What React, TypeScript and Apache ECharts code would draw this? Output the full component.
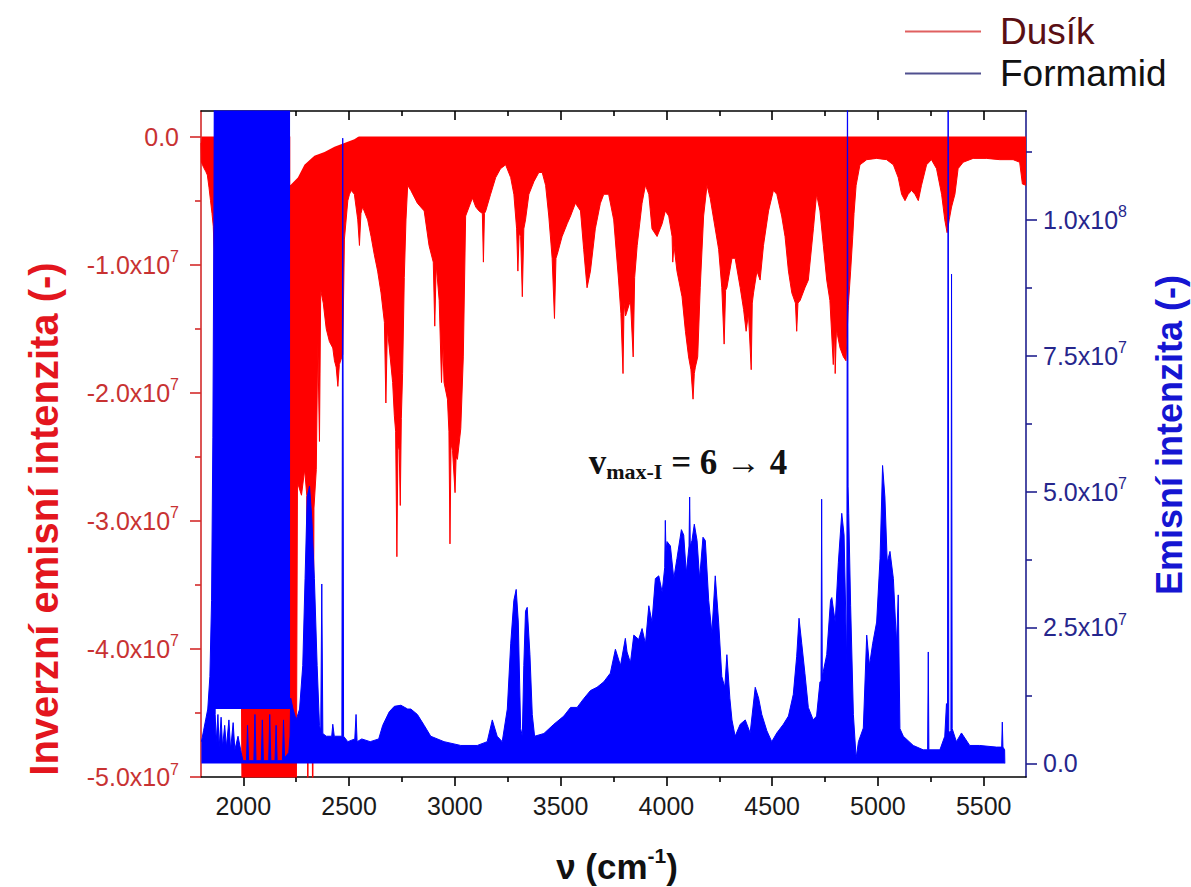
import React, { useEffect, useRef } from "react";
import * as echarts from "echarts";

// ---------- data (intensities in units of 1e7) ----------
const UNIT = 1e7;

const xTicks = [2000, 2500, 3000, 3500, 4000, 4500, 5000, 5500];
const xMinorTicks = [2250, 2750, 3250, 3750, 4250, 4750, 5250];
const leftTicks = [-5e7, -4e7, -3e7, -2e7, -1e7, 0];
const leftMinorTicks = [-4.5e7, -3.5e7, -2.5e7, -1.5e7, -0.5e7];
const rightTicks = [0, 2.5e7, 5e7, 7.5e7, 1e8];
const rightMinorTicks = [1.25e7, 3.75e7, 6.25e7, 8.75e7, 1.125e8];

// Dusík (nitrogen) – inverted emission, lower envelope of the dense line spectrum
const dusik: [number, number][] = [
  [1800, -0.05], [1802, -0.2], [1812, -0.24], [1822, -0.27], [1830, -0.3], [1838, -0.4],
  [1845, -0.5], [1852, -0.6], [1858, -0.7], [1862, -0.9], [1866, -4.0], [1990, -4.0], [1995, -5.5],
  [2250, -5.5], [2256, -2.7], [2275, -2.8], [2290, -2.6], [2300, -2.8], [2305, -5.5],
  [2310, -2.8], [2322, -2.9], [2328, -5.5], [2334, -2.9], [2345, -2.6], [2352, -1.6],
  [2360, -2.38], [2366, -1.2], [2378, -1.3], [2392, -1.5], [2407, -1.6], [2423, -1.65],
  [2431, -1.75], [2439, -1.8], [2447, -1.95], [2454, -1.78], [2470, -1.7], [2478, -0.8],
  [2494, -0.5], [2502, -0.45], [2510, -0.42], [2525, -0.45], [2541, -0.65], [2549, -0.85],
  [2556, -0.6], [2564, -0.55], [2588, -0.65], [2604, -0.78], [2619, -0.92], [2635, -1.05],
  [2651, -1.22], [2667, -1.45], [2674, -2.08], [2681, -1.5], [2690, -1.65], [2706, -1.92],
  [2714, -2.18], [2720, -2.3], [2726, -3.28], [2731, -2.4], [2737, -2.45], [2742, -2.88],
  [2747, -2.2], [2753, -1.85], [2761, -1.1], [2769, -0.65], [2777, -0.38], [2792, -0.42],
  [2823, -0.52], [2855, -0.58], [2878, -0.85], [2898, -0.98], [2905, -1.48], [2912, -1.0],
  [2926, -1.28], [2937, -1.92], [2943, -1.6], [2949, -1.92], [2965, -2.05], [2972, -2.3],
  [2977, -3.18], [2982, -2.4], [2989, -2.45], [3001, -2.78], [3006, -2.5], [3012, -2.52],
  [3028, -2.28], [3040, -1.72], [3051, -0.62], [3067, -0.55], [3083, -0.48], [3099, -0.55],
  [3114, -0.58], [3130, -0.6], [3135, -0.98], [3140, -0.6], [3146, -0.58], [3169, -0.45],
  [3193, -0.32], [3216, -0.25], [3240, -0.22], [3264, -0.32], [3279, -0.45], [3292, -0.72],
  [3298, -1.05], [3304, -0.75], [3311, -0.78], [3319, -1.25], [3326, -0.72], [3334, -0.65],
  [3350, -0.45], [3374, -0.35], [3397, -0.28], [3413, -0.28], [3429, -0.38], [3444, -0.62],
  [3460, -0.95], [3471, -1.42], [3478, -0.95], [3484, -0.92], [3507, -0.78], [3531, -0.68],
  [3547, -0.62], [3570, -0.52], [3594, -0.58], [3609, -0.88], [3625, -1.18], [3641, -1.05],
  [3664, -0.72], [3688, -0.52], [3704, -0.45], [3727, -0.45], [3751, -0.65], [3774, -1.12],
  [3785, -1.38], [3795, -1.85], [3800, -1.3], [3807, -1.4], [3830, -1.28], [3843, -1.72],
  [3850, -1.1], [3862, -0.85], [3885, -0.52], [3901, -0.38], [3917, -0.45], [3932, -0.72],
  [3956, -0.78], [3980, -0.68], [3995, -0.58], [4011, -0.62], [4027, -0.78], [4030, -0.98],
  [4036, -0.85], [4050, -1.05], [4074, -1.25], [4090, -1.52], [4105, -1.72], [4116, -1.82],
  [4126, -2.05], [4132, -1.85], [4137, -1.8], [4148, -1.72], [4160, -1.18], [4176, -0.62],
  [4192, -0.38], [4207, -0.48], [4231, -0.72], [4247, -0.88], [4262, -1.18], [4273, -1.62],
  [4280, -1.2], [4286, -1.18], [4310, -0.95], [4325, -0.95], [4349, -1.18], [4365, -1.35],
  [4377, -1.52], [4388, -1.38], [4401, -1.82], [4406, -1.3], [4412, -1.22], [4428, -1.05],
  [4443, -1.12], [4459, -0.85], [4483, -0.58], [4506, -0.42], [4522, -0.45], [4545, -0.62],
  [4561, -0.78], [4577, -1.05], [4593, -1.22], [4610, -1.3], [4616, -1.52], [4622, -1.3],
  [4632, -1.28], [4655, -1.18], [4671, -1.12], [4695, -0.72], [4710, -0.45], [4726, -0.58],
  [4742, -0.85], [4758, -1.12], [4773, -1.28], [4789, -1.78], [4795, -1.5], [4798, -1.85],
  [4804, -1.5], [4809, -1.55], [4821, -1.65], [4837, -1.72], [4849, -1.75], [4860, -1.32],
  [4871, -1.05], [4881, -0.78], [4887, -0.6], [4897, -0.38], [4915, -0.22], [4947, -0.18],
  [4994, -0.17], [5041, -0.18], [5073, -0.22], [5096, -0.32], [5112, -0.45], [5128, -0.5],
  [5143, -0.45], [5159, -0.42], [5175, -0.45], [5191, -0.5], [5206, -0.38], [5230, -0.22],
  [5253, -0.18], [5277, -0.25], [5301, -0.45], [5316, -0.65], [5327, -0.75], [5337, -0.65],
  [5348, -0.55], [5364, -0.45], [5379, -0.25], [5403, -0.2], [5450, -0.17], [5513, -0.17],
  [5576, -0.18], [5639, -0.18], [5670, -0.2], [5683, -0.37], [5700, -0.38],
];

// Dusík – upper envelope where the lines do not reach zero (just after the saturated band)
const dusikUpper: [number, number][] = [
  [2222, -0.38], [2258, -0.32], [2289, -0.22], [2336, -0.15], [2384, -0.12],
  [2431, -0.08], [2478, -0.05], [2525, -0.02], [2545, 0],
];

// Formamid – emission, upper envelope of the dense line spectrum
const formamid: [number, number][] = [
  [1802, 0.4], [1812, 0.6], [1822, 0.8], [1832, 1.0], [1842, 1.6], [1850, 3.0], [1856, 6.0],
  [1861, 10.0], [1864, 14.0], [1867, 0.9], [1872, 0.4], [1880, 0.9], [1886, 0.3], [1895, 0.85],
  [1902, 0.3], [1912, 0.7], [1920, 0.3], [1932, 0.8], [1940, 0.25], [1952, 0.75], [1960, 0.25],
  [1975, 0.5], [1990, 0.2], [1998, 0.05], [2015, 0.05], [2020, 0.7], [2025, 0.05], [2050, 0.05],
  [2055, 0.9], [2060, 0.05], [2085, 0.05], [2090, 0.8], [2095, 0.05], [2120, 0.05], [2125, 0.9],
  [2130, 0.05], [2150, 0.05], [2155, 0.7], [2160, 0.05], [2185, 0.05], [2190, 0.8], [2195, 0.1],
  [2215, 0.2], [2221, 0.5], [2224, 1.2], [2235, 1.0], [2250, 0.8], [2266, 1.0], [2281, 1.8],
  [2292, 3.4], [2302, 4.9], [2313, 5.1], [2324, 4.5], [2336, 3.4], [2349, 1.8], [2360, 0.7],
  [2366, 0.6], [2371, 3.3], [2376, 0.55], [2392, 0.5], [2418, 0.5], [2423, 0.72], [2430, 0.5],
  [2466, 0.5], [2470, 11.5], [2474, 0.5], [2494, 0.4], [2527, 0.45], [2533, 0.9], [2538, 0.4],
  [2560, 0.45], [2600, 0.4], [2640, 0.45], [2659, 0.7], [2690, 0.95], [2714, 1.05], [2745, 1.07],
  [2777, 1.0], [2792, 1.0], [2823, 0.9], [2855, 0.7], [2886, 0.5], [2949, 0.4], [3028, 0.33],
  [3106, 0.33], [3153, 0.4], [3177, 0.8], [3200, 0.5], [3224, 0.4], [3248, 1.0], [3264, 2.2],
  [3279, 3.0], [3290, 3.2], [3300, 2.6], [3311, 0.64], [3319, 0.5], [3326, 1.8], [3334, 2.8],
  [3342, 2.87], [3355, 2.0], [3366, 0.9], [3377, 0.5], [3421, 0.55], [3468, 0.72], [3515, 0.87],
  [3547, 1.03], [3578, 1.03], [3609, 1.19], [3641, 1.34], [3672, 1.4], [3704, 1.5], [3735, 1.66],
  [3759, 2.1], [3783, 1.8], [3806, 2.3], [3814, 2.05], [3830, 1.85], [3846, 2.36], [3869, 2.28],
  [3885, 2.48], [3901, 2.2], [3917, 2.9], [3932, 2.6], [3948, 3.4], [3964, 3.45], [3980, 3.15],
  [3992, 3.6], [3995, 4.47], [3998, 3.9], [4003, 4.08], [4019, 4.0], [4035, 3.4], [4050, 3.77],
  [4071, 4.3], [4082, 4.2], [4094, 3.5], [4107, 4.0], [4110, 4.9], [4113, 4.0], [4121, 4.1],
  [4132, 4.4], [4145, 4.1], [4157, 3.4], [4173, 4.16], [4184, 4.1], [4200, 3.0], [4215, 2.4],
  [4231, 3.45], [4247, 2.6], [4262, 1.6], [4276, 1.4], [4286, 2.0], [4300, 1.2], [4310, 0.8],
  [4325, 0.5], [4349, 0.72], [4373, 0.8], [4396, 0.56], [4420, 1.4], [4436, 1.2], [4451, 0.9],
  [4475, 0.6], [4498, 0.4], [4522, 0.56], [4553, 0.72], [4577, 0.87], [4600, 1.27], [4616, 1.97],
  [4627, 2.67], [4640, 2.2], [4655, 1.65], [4671, 1.03], [4694, 0.8], [4710, 0.87], [4726, 1.5],
  [4731, 1.5], [4734, 4.86], [4737, 1.6], [4758, 2.0], [4776, 3.0], [4782, 3.05], [4798, 2.6],
  [4813, 3.7], [4829, 4.6], [4840, 4.2], [4853, 1.8], [4856, 14.0], [4859, 5.1], [4862, 4.6],
  [4871, 2.9], [4884, 0.9], [4897, 0.1], [4908, 0.4], [4931, 0.65], [4947, 2.36], [4960, 1.8],
  [4975, 2.2], [4994, 2.6], [5010, 3.77], [5022, 5.48], [5033, 4.9], [5044, 3.7], [5057, 3.9],
  [5073, 3.4], [5088, 2.2], [5096, 3.1], [5104, 0.64], [5120, 0.5], [5167, 0.33], [5214, 0.25],
  [5235, 0.25], [5238, 2.05], [5241, 0.25], [5293, 0.25], [5316, 0.5], [5324, 1.1], [5329, 0.6],
  [5332, 14.0], [5335, 0.6], [5340, 0.56], [5345, 0.6], [5348, 9.0], [5351, 0.64], [5371, 0.4],
  [5395, 0.56], [5434, 0.33], [5481, 0.33], [5560, 0.3], [5585, 0.3], [5588, 0.76], [5591, 0.3],
  [5599, 0.25], [5600, 0],
];

// Formamid – saturated band (lines run off the top of the axis)
const formamidSaturated: [number, number][] = [[1865, 14.0], [2221, 14.0]];
const saturatedBandFloor = 1.0; // lower edge of the solid band, units of 1e7

// ---------- styles ----------
const FONT = "'Liberation Sans', Arial, Helvetica, sans-serif";
const SERIF = "'Liberation Serif', 'Times New Roman', serif";
const RED = "#ff0000";
const BLUE = "#0000ff";
const LEFT_AXIS = "#d42a2a";
const LEFT_LABEL = "#c83232";
const RIGHT_AXIS = "#20208f";
const RIGHT_LABEL = "#26268c";

const scaled = (arr: [number, number][]) => arr.map(([w, v]) => [w, v * UNIT]);

function leftFmt(v: number) {
  if (Math.abs(v) < 1) return "{a|0.0}";
  return `{a|${(v / 1e7).toFixed(1)}x10}{s|7}`;
}
function rightFmt(v: number) {
  if (Math.abs(v) < 1) return "{a|0.0}";
  if (v >= 1e8) return `{a|${(v / 1e8).toFixed(1)}x10}{s|8}`;
  return `{a|${(v / 1e7).toFixed(1)}x10}{s|7}`;
}

const labelRich = (color: string) => ({
  a: { fontSize: 25, fontFamily: FONT, color },
  s: { fontSize: 16, fontFamily: FONT, color, padding: [0, 0, 16, 0] },
});

const X_MIN = 1800;
const X_MAX = 5700;
const L_MIN = -5e7;
const L_MAX = 2e6;
const R_MIN = -2.5e6;
const R_MAX = 1.2e8;

function buildOption(): any {
  const xBase = { type: "value", min: X_MIN, max: X_MAX, splitLine: { show: false } };
  return {
    animation: false,
    backgroundColor: "#ffffff",
    grid: { left: 201, right: 165, top: 111, bottom: 110, containLabel: false },
    legend: {
      orient: "vertical",
      left: 905,
      top: 13,
      padding: 0,
      icon: "rect",
      itemWidth: 76,
      itemHeight: 2,
      itemGap: 5,
      selectedMode: false,
      textStyle: { fontSize: 37, fontFamily: FONT, padding: [0, 0, 0, 14] },
      data: [
        { name: "Dusík", itemStyle: { color: "#e06060" }, textStyle: { color: "#5a0f14" } },
        { name: "Formamid", itemStyle: { color: "#50508f" }, textStyle: { color: "#111111" } },
      ],
    },
    xAxis: [
      {
        ...xBase,
        position: "bottom",
        axisLine: { show: true, onZero: false, lineStyle: { color: "#000", width: 1.6 } },
        axisTick: { show: true, inside: false, length: 9, customValues: xTicks, lineStyle: { color: "#000", width: 1.6 } },
        axisLabel: {
          show: true,
          customValues: xTicks,
          formatter: (v: number) => String(v),
          fontSize: 25,
          fontFamily: FONT,
          color: "#1a1a1a",
          margin: 16,
        },
      },
      {
        ...xBase,
        position: "bottom",
        axisLine: { show: false, onZero: false },
        axisTick: { show: true, inside: false, length: 5, customValues: xMinorTicks, lineStyle: { color: "#000", width: 1.6 } },
        axisLabel: { show: false },
      },
      {
        ...xBase,
        position: "top",
        axisLine: { show: true, onZero: false, lineStyle: { color: "#000", width: 1.6 } },
        axisTick: { show: true, inside: true, length: 9, customValues: xTicks, lineStyle: { color: "#000", width: 1.6 } },
        axisLabel: { show: false },
      },
      {
        ...xBase,
        position: "top",
        axisLine: { show: false, onZero: false },
        axisTick: { show: true, inside: true, length: 5, customValues: xMinorTicks, lineStyle: { color: "#000", width: 1.6 } },
        axisLabel: { show: false },
      },
    ],
    yAxis: [
      {
        type: "value",
        position: "left",
        min: L_MIN,
        max: L_MAX,
        splitLine: { show: false },
        axisLine: { show: true, onZero: false, lineStyle: { color: LEFT_AXIS, width: 1.6 } },
        axisTick: { show: true, length: 11, customValues: leftTicks, lineStyle: { color: LEFT_AXIS, width: 1.6 } },
        axisLabel: { show: true, customValues: leftTicks, formatter: leftFmt, rich: labelRich(LEFT_LABEL), margin: 22 },
      },
      {
        type: "value",
        position: "left",
        min: L_MIN,
        max: L_MAX,
        splitLine: { show: false },
        axisLine: { show: false, onZero: false },
        axisTick: { show: true, length: 6, customValues: leftMinorTicks, lineStyle: { color: LEFT_AXIS, width: 1.6 } },
        axisLabel: { show: false },
      },
      {
        type: "value",
        position: "right",
        min: R_MIN,
        max: R_MAX,
        splitLine: { show: false },
        axisLine: { show: true, onZero: false, lineStyle: { color: RIGHT_AXIS, width: 1.6 } },
        axisTick: { show: true, length: 11, customValues: rightTicks, lineStyle: { color: RIGHT_AXIS, width: 1.6 } },
        axisLabel: { show: true, customValues: rightTicks, formatter: rightFmt, rich: labelRich(RIGHT_LABEL), margin: 17 },
      },
      {
        type: "value",
        position: "right",
        min: R_MIN,
        max: R_MAX,
        splitLine: { show: false },
        axisLine: { show: false, onZero: false },
        axisTick: { show: true, length: 6, customValues: rightMinorTicks, lineStyle: { color: RIGHT_AXIS, width: 1.6 } },
        axisLabel: { show: false },
      },
    ],
    series: [
      {
        name: "Dusík",
        type: "line",
        xAxisIndex: 0,
        yAxisIndex: 0,
        data: scaled(dusik),
        symbol: "none",
        lineStyle: { color: RED, width: 1 },
        itemStyle: { color: RED },
        areaStyle: { color: RED, opacity: 1 },
        z: 2,
      },
      {
        name: "DusíkGap",
        type: "line",
        xAxisIndex: 0,
        yAxisIndex: 0,
        data: scaled(dusikUpper),
        symbol: "none",
        lineStyle: { color: "#ffffff", width: 0 },
        areaStyle: { color: "#ffffff", opacity: 1, origin: 0.08 * UNIT },
        z: 3,
      },
      {
        name: "Formamid",
        type: "line",
        xAxisIndex: 0,
        yAxisIndex: 2,
        data: scaled(formamid),
        symbol: "none",
        lineStyle: { color: BLUE, width: 1 },
        itemStyle: { color: BLUE },
        areaStyle: { color: BLUE, opacity: 1 },
        z: 4,
      },
      {
        name: "Formamid",
        type: "line",
        xAxisIndex: 0,
        yAxisIndex: 2,
        data: scaled(formamidSaturated),
        symbol: "none",
        lineStyle: { color: BLUE, width: 1 },
        itemStyle: { color: BLUE },
        areaStyle: { color: BLUE, opacity: 1, origin: saturatedBandFloor * UNIT },
        z: 4,
      },
    ],
    graphic: [
      {
        type: "text",
        x: 44,
        y: 519,
        rotation: Math.PI / 2,
        style: {
          text: "Inverzní emisní intenzita (-)",
          fontSize: 40,
          fontWeight: "bold",
          fontFamily: FONT,
          fill: "#e3161e",
          align: "center",
          verticalAlign: "middle",
        },
      },
      {
        type: "text",
        x: 1169,
        y: 435,
        rotation: Math.PI / 2,
        style: {
          text: "Emisní intenzita (-)",
          fontSize: 36,
          fontWeight: "bold",
          fontFamily: FONT,
          fill: "#1515d2",
          align: "center",
          verticalAlign: "middle",
        },
      },
      {
        type: "text",
        x: 617,
        y: 866,
        style: {
          text: "{a|ν (cm}{s|-1}{a|)}",
          align: "center",
          verticalAlign: "middle",
          rich: {
            a: { fontSize: 35, fontWeight: "bold", fontFamily: FONT, fill: "#111" },
            s: { fontSize: 21, fontWeight: "bold", fontFamily: FONT, fill: "#111", padding: [0, 0, 22, 0] },
          },
        },
      },
      {
        type: "text",
        x: 688,
        y: 462,
        style: {
          text: "{v|v}{sub|max-I}{n| = 6 → 4}",
          align: "center",
          verticalAlign: "middle",
          rich: {
            v: { fontSize: 35, fontWeight: "bold", fontFamily: SERIF, fill: "#111" },
            sub: { fontSize: 22, fontWeight: "bold", fontFamily: SERIF, fill: "#111", padding: [18, 0, 0, 0] },
            n: { fontSize: 35, fontWeight: "bold", fontFamily: SERIF, fill: "#111" },
          },
        },
      },
    ],
  };
}

export default function App() {
  const ref = useRef<HTMLDivElement>(null);
  useEffect(() => {
    if (!ref.current) return;
    const chart = echarts.init(ref.current, null, { renderer: "svg" });
    chart.setOption(buildOption());
    return () => chart.dispose();
  }, []);
  return (
    <div
      ref={ref}
      style={{ position: "absolute", left: 0, top: 0, width: 1191, height: 887, background: "#fff" }}
    />
  );
}
